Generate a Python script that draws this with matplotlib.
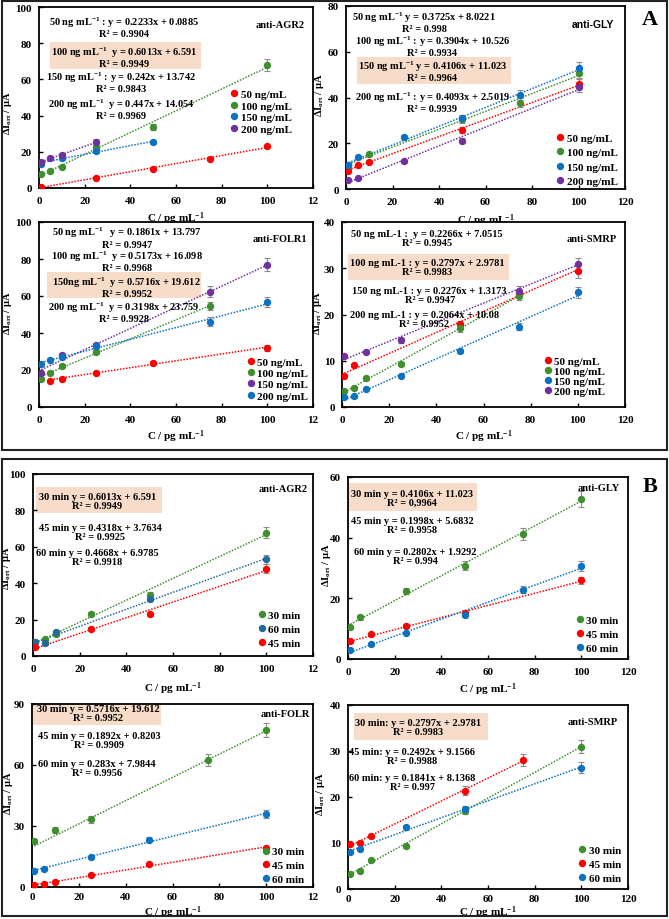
import numpy as np
import matplotlib.pyplot as plt
from matplotlib.patches import Rectangle
from matplotlib.lines import Line2D

plt.rcParams['font.family'] = ['Liberation Serif', 'DejaVu Serif']
plt.rcParams['font.weight'] = 'bold'
plt.rcParams['mathtext.fontset'] = 'custom'
plt.rcParams['mathtext.rm'] = 'Liberation Serif:bold'
plt.rcParams['mathtext.it'] = 'Liberation Serif:bold:italic'
plt.rcParams['mathtext.bf'] = 'Liberation Serif:bold'

RED = '#FF0000'
GREEN = '#3F8F2F'
BLUE = '#0B72C2'
PURPLE = '#7030A0'
DARKBLUE = '#236A9A'

conc_labels = ['50 ng/mL', '100 ng/mL', '150 ng/mL', '200 ng/mL']
time_labels = ['30 min', '45 min', '60 min']

# ---------------- panel A : anti-AGR2 ----------------
a_agr2_x = [[1, 25, 50, 75, 100], [1, 5, 10, 25, 50, 100], [1, 10, 25, 50], [1, 5, 10, 25]]
a_agr2_y = [[0.8, 5.6, 10.4, 16.0, 23.2], [8.0, 9.3, 11.7, 22.9, 33.6, 67.8],
            [13.2, 16.4, 20.4, 25.3], [14.5, 16.4, 18.2, 25.3]]
a_agr2_err = [[0.3, 0.4, 0.5, 0.6, 0.8], [0.8, 0.8, 0.9, 1.2, 1.8, 3.2],
              [0.8, 0.8, 1.0, 1.2], [0.8, 0.8, 0.9, 1.6]]
a_agr2_fit = [(0.2233, 0.0885), (0.6013, 6.591), (0.242, 13.742), (0.447, 14.054)]

# ---------------- panel A : anti-GLY ----------------
a_gly_x = [[1, 5, 10, 50, 100], [1, 10, 50, 75, 100], [1, 5, 25, 50, 75, 100], [1, 5, 25, 50, 100]]
a_gly_y = [[8.0, 10.5, 12.0, 25.8, 46.0], [10.3, 15.3, 30.4, 37.7, 50.8],
           [10.5, 13.9, 22.6, 31.0, 41.2, 52.8], [4.1, 4.8, 12.1, 21.2, 44.5]]
a_gly_err = [[0.6, 0.6, 0.7, 1.2, 2.0], [0.6, 0.8, 1.4, 2.0, 2.4],
             [0.6, 0.7, 1.0, 1.5, 2.2, 2.8], [0.5, 0.5, 0.7, 1.0, 2.0]]
a_gly_fit = [(0.3725, 8.0221), (0.3904, 10.526), (0.4106, 11.023), (0.4093, 2.5019)]

# ---------------- panel A : anti-FOLR1 ----------------
a_folr_x = [[5, 10, 25, 50, 100], [1, 5, 10, 25, 75], [1, 10, 25, 75, 100], [1, 5, 10, 25, 75, 100]]
a_folr_y = [[14.1, 15.1, 18.6, 23.7, 31.9], [15.1, 18.6, 22.3, 29.7, 54.7],
            [18.2, 28.3, 33.4, 62.4, 77.0], [23.2, 25.5, 27.0, 32.8, 46.0, 56.6]]
a_folr_err = [[0.6, 0.6, 0.8, 1.0, 1.5], [0.7, 0.8, 1.0, 1.2, 2.2],
              [0.8, 1.0, 1.3, 3.0, 3.6], [0.8, 0.9, 1.0, 1.3, 2.4, 2.8]]
a_folr_fit = [(0.1861, 13.797), (0.5173, 16.098), (0.5716, 19.612), (0.3198, 23.759)]

# ---------------- panel A : anti-SMRP ----------------
a_smrp_x = [[1, 5, 50, 75, 100], [1, 5, 10, 25, 50, 75], [1, 5, 10, 25, 50, 75, 100], [1, 10, 25, 75, 100]]
a_smrp_y = [[6.8, 9.0, 17.9, 24.5, 29.4], [3.4, 4.2, 6.3, 9.3, 17.0, 24.0],
            [2.2, 2.3, 3.9, 6.8, 12.1, 17.4, 24.8], [11.0, 12.0, 14.4, 25.1, 30.9]]
a_smrp_err = [[0.3, 0.3, 0.6, 0.9, 1.6], [0.3, 0.3, 0.4, 0.5, 0.7, 0.9],
              [0.3, 0.3, 0.3, 0.4, 0.5, 0.8, 1.2], [0.4, 0.4, 0.6, 1.0, 1.4]]
a_smrp_fit = [(0.2266, 7.0515), (0.2797, 2.9781), (0.2276, 1.3173), (0.2064, 10.08)]

# ---------------- panel B : anti-AGR2 (30, 60, 45 min) ----------------
b_agr2_x = [[1, 5, 10, 25, 50, 100], [1, 5, 10, 50, 100], [1, 25, 50, 100]]
b_agr2_y = [[7.9, 9.3, 12.1, 23.2, 33.6, 67.8], [7.6, 6.9, 13.3, 31.2, 53.1], [4.9, 15.0, 23.2, 48.0]]
b_agr2_err = [[0.8, 0.8, 0.9, 1.2, 1.8, 3.2], [0.7, 0.7, 0.9, 1.2, 2.4], [0.6, 0.8, 1.0, 2.4]]
b_agr2_fit = [(0.6013, 6.591), (0.4668, 6.9785), (0.4318, 3.7634)]

# ---------------- panel B : anti-GLY ----------------
b_gly_x = [[1, 5, 25, 50, 75, 100], [1, 10, 25, 50, 100], [1, 10, 25, 50, 75, 100]]
b_gly_y = [[10.4, 13.7, 22.3, 30.7, 41.1, 52.7], [5.8, 8.1, 10.9, 15.2, 25.9],
           [3.1, 4.8, 8.7, 14.6, 22.9, 30.7]]
b_gly_err = [[0.6, 0.7, 1.0, 1.5, 2.0, 2.6], [0.4, 0.5, 0.6, 0.8, 1.2], [0.4, 0.5, 0.6, 0.8, 1.2, 1.6]]
b_gly_fit = [(0.4106, 11.023), (0.1998, 5.6832), (0.2802, 1.9292)]

# ---------------- panel B : anti-FOLR ----------------
b_folr_x = [[1, 10, 25, 75, 100], [1, 5, 10, 25, 50, 100], [1, 5, 25, 50, 100]]
b_folr_y = [[22.7, 28.0, 33.3, 62.6, 77.2], [0.8, 1.3, 2.4, 6.0, 11.3, 19.2],
            [7.8, 9.0, 14.7, 23.3, 35.7]]
b_folr_err = [[0.8, 1.5, 1.8, 3.0, 3.6], [0.3, 0.3, 0.3, 0.5, 0.6, 0.9], [0.5, 0.5, 0.7, 1.2, 2.0]]
b_folr_fit = [(0.5716, 19.612), (0.1892, 0.8203), (0.283, 7.9844)]

# ---------------- panel B : anti-SMRP ----------------
b_smrp_x = [[1, 5, 10, 25, 50, 100], [1, 5, 10, 50, 75], [1, 5, 25, 50, 100]]
b_smrp_y = [[3.3, 4.0, 6.2, 9.3, 17.0, 30.9], [9.8, 10.1, 11.5, 21.4, 28.0],
            [8.0, 8.7, 13.4, 17.4, 26.4]]
b_smrp_err = [[0.3, 0.3, 0.3, 0.4, 0.7, 1.4], [0.3, 0.3, 0.4, 0.9, 1.3], [0.3, 0.3, 0.5, 0.7, 1.2]]
b_smrp_fit = [(0.2797, 2.9781), (0.2492, 9.1566), (0.1841, 8.1368)]

W, H = 669, 920
fig = plt.figure(figsize=(W / 100, H / 100), dpi=100)


def px_axes(x0, y0, x1, y1):
    return fig.add_axes([x0 / W, 1 - y1 / H, (x1 - x0) / W, (y1 - y0) / H])


def draw(ax, xs, ys, errs, fits, colors, labels, ymax, ystep, notes, box, title,
         title_xy, title_font, leg_xy, leg_space, ylab_xy, xlab_y, left_col, xpad=5.5):
    for x, y, e, (m, b), c in zip(xs, ys, errs, fits, colors):
        x = np.array(x)
        xl = np.array([x.min(), x.max()])
        ax.plot(xl, m * xl + b, ls=(0, (1, 1)), color=c, lw=1.1, zorder=2)
        ax.errorbar(x, y, yerr=e, fmt='o', ms=4.3, color=c, ecolor='#8c8c8c',
                    elinewidth=0.8, capsize=2, capthick=0.8, zorder=3)
    ax.add_patch(Rectangle(box[:2], box[2], box[3], transform=ax.transAxes,
                           facecolor='#F8DCCA', edgecolor='none', zorder=1))
    for txt, tx, ty in notes:
        ax.text(tx, ty, txt, transform=ax.transAxes, ha='center', va='center',
                fontsize=7.5, fontweight='bold', linespacing=1.0, zorder=4)
    ax.text(title_xy[0], title_xy[1], title, transform=ax.transAxes, ha='right',
            va='center', fontsize=7.5, fontweight='bold', family=title_font)
    handles = [Line2D([], [], ls='none', marker='o', ms=4.3, color=c) for c in colors]
    ax.legend(handles, labels, loc='lower left', bbox_to_anchor=leg_xy, frameon=False,
              fontsize=8, handlelength=0.6, handletextpad=0.3, labelspacing=leg_space,
              borderaxespad=0, borderpad=0)
    ax.set_xlim(0, 120)
    ax.set_ylim(0, ymax)
    ax.set_xticks(np.arange(0, 121, 20))
    if left_col:
        ax.set_xticklabels(['0', '20', '40', '60', '80', '100', '12'])
    ax.set_yticks(np.arange(0, ymax + 0.1, ystep))
    ax.tick_params(direction='in', length=3, width=1, labelsize=8)
    ax.tick_params(axis='x', pad=xpad)
    ax.tick_params(axis='y', pad=5)
    for s in ax.spines.values():
        s.set_linewidth(1.3)
    ax.set_xlabel('C / pg mL$^{-1}$', fontsize=8, fontweight='bold')
    ax.xaxis.set_label_coords(0.5, xlab_y)
    ax.set_ylabel('ΔI$_{\\mathrm{ort}}$ / μA', fontsize=7.5, fontweight='bold')
    ax.yaxis.set_label_coords(*ylab_xy)


conc_colors = [RED, GREEN, BLUE, PURPLE]

ax = px_axes(39, 8, 313, 189)
draw(ax, a_agr2_x, a_agr2_y, a_agr2_err, a_agr2_fit, conc_colors, conc_labels, 100, 20,
     [('50 ng mL$^{-1}$ : y = 0.2233x + 0.0885\nR² = 0.9904', 0.31, 0.895),
      ('100 ng mL$^{-1}$  y = 0.6013x + 6.591\nR² = 0.9949', 0.31, 0.73),
      ('150 ng mL$^{-1}$ : y = 0.242x + 13.742\nR² = 0.9843', 0.30, 0.59),
      ('200 ng mL$^{-1}$  y = 0.447x + 14.054\nR² = 0.9969', 0.30, 0.44)],
     (0.04, 0.657, 0.55, 0.15), 'anti-AGR2', (0.97, 0.906), 'Liberation Serif',
     (0.70, 0.30), 0.16, (-0.09, 0.42), -0.12, True)

ax = px_axes(346, 7, 625, 190)
draw(ax, a_gly_x, a_gly_y, a_gly_err, a_gly_fit, conc_colors, conc_labels, 80, 20,
     [('50 ng mL$^{-1}$ y = 0.3725x + 8.0221\nR² = 0.998', 0.28, 0.915),
      ('100 ng mL$^{-1}$ : y = 0.3904x + 10.526\nR² = 0.9934', 0.31, 0.784),
      ('150 ng mL$^{-1}$ y = 0.4106x + 11.023\nR² = 0.9964', 0.31, 0.648),
      ('200 ng mL$^{-1}$ : y = 0.4093x + 2.5019\nR² = 0.9939', 0.31, 0.48)],
     (0.04, 0.574, 0.55, 0.147), 'anti-GLY', (0.96, 0.9), 'Liberation Sans',
     (0.755, 0.015), 0.42, (-0.072, 0.52), -0.12, False)

ax = px_axes(39, 223, 313, 408)
draw(ax, a_folr_x, a_folr_y, a_folr_err, a_folr_fit, [RED, GREEN, PURPLE, BLUE], conc_labels, 100, 20,
     [('50 ng mL$^{-1}$   y = 0.1861x + 13.797\nR² = 0.9947', 0.32, 0.92),
      ('100 ng mL$^{-1}$  y = 0.5173x + 16.098\nR² = 0.9968', 0.32, 0.795),
      ('150ng mL$^{-1}$  y = 0.5716x + 19.612\nR² = 0.9952', 0.32, 0.655),
      ('200 ng mL$^{-1}$  y = 0.3198x + 23.759\nR² = 0.9928', 0.31, 0.515)],
     (0.03, 0.589, 0.56, 0.141), 'anti-FOLR1', (0.98, 0.91), 'Liberation Serif',
     (0.76, 0.035), 0.13, (-0.09, 0.51), -0.11, True)

ax = px_axes(342, 223, 625, 408)
draw(ax, a_smrp_x, a_smrp_y, a_smrp_err, a_smrp_fit, conc_colors, conc_labels, 40, 10,
     [('50 ng mL-1 :  y = 0.2266x + 7.0515\nR² = 0.9945', 0.30, 0.914),
      ('100 ng mL-1 : y = 0.2797x + 2.9781\nR² = 0.9983', 0.30, 0.757),
      ('150 ng mL-1 : y = 0.2276x + 1.3173\nR² = 0.9947', 0.31, 0.605),
      ('200 ng mL-1 : y = 0.2064x + 10.08\nR² = 0.9952', 0.29, 0.475)],
     (0.02, 0.686, 0.57, 0.141), 'anti-SMRP', (0.97, 0.91), 'Liberation Serif',
     (0.715, 0.06), 0.02, (-0.062, 0.51), -0.11, False)

ax = px_axes(33, 475, 313, 657)
draw(ax, b_agr2_x, b_agr2_y, b_agr2_err, b_agr2_fit, [GREEN, DARKBLUE, RED],
     ['30 min', '60 min', '45 min'], 100, 20,
     [('30 min y = 0.6013x + 6.591\nR² = 0.9949', 0.23, 0.854),
      ('45 min y = 0.4318x + 3.7634\nR² = 0.9925', 0.24, 0.684),
      ('60 min y = 0.4668x + 6.9785\nR² = 0.9918', 0.23, 0.544)],
     (0.01, 0.786, 0.45, 0.143), 'anti-AGR2', (0.98, 0.923), 'Liberation Serif',
     (0.805, 0.045), 0.37, (-0.07, 0.49), -0.13, True)

ax = px_axes(348, 478, 628, 660)
draw(ax, b_gly_x, b_gly_y, b_gly_err, b_gly_fit, [GREEN, RED, BLUE], time_labels, 60, 20,
     [('30 min y = 0.4106x + 11.023\nR² = 0,9964', 0.23, 0.885),
      ('45 min y = 0.1998x + 5.6832\nR² = 0.9958', 0.23, 0.734),
      ('60 min y = 0.2802x + 1.9292\nR² = 0.994', 0.24, 0.566)],
     (0.0, 0.813, 0.46, 0.154), 'anti-GLY', (0.97, 0.945), 'Liberation Serif',
     (0.815, 0.035), 0.37, (-0.055, 0.52), -0.115, False)

ax = px_axes(32, 705, 313, 888)
draw(ax, b_folr_x, b_folr_y, b_folr_err, b_folr_fit, [GREEN, RED, BLUE], time_labels, 90, 30,
     [('30 min y = 0.5716x + 19.612\nR² = 0.9952', 0.235, 0.95),
      ('45 min y = 0.1892x + 0.8203\nR² = 0.9909', 0.24, 0.803),
      ('60 min y = 0.283x + 7.9844\nR² = 0.9956', 0.23, 0.65)],
     (0.0, 0.885, 0.46, 0.115), 'anti-FOLR', (0.99, 0.95), 'Liberation Serif',
     (0.82, 0.015), 0.37, (-0.06, 0.52), -0.092, True, xpad=3.5)

ax = px_axes(348, 706, 628, 890)
draw(ax, b_smrp_x, b_smrp_y, b_smrp_err, b_smrp_fit, [GREEN, RED, BLUE], time_labels, 40, 10,
     [('30 min: y = 0.2797x + 2.9781\nR² = 0.9983', 0.25, 0.883),
      ('45 min: y = 0.2492x + 9.1566\nR² = 0.9988', 0.23, 0.725),
      ('60 min: y = 0.1841x + 8.1368\nR² = 0.997', 0.23, 0.58)],
     (0.02, 0.81, 0.48, 0.147), 'anti-SMRP', (0.965, 0.908), 'Liberation Serif',
     (0.825, 0.035), 0.37, (-0.075, 0.52), -0.079, False, xpad=3.5)

# panel frames and letters
for y0, y1 in [(2, 451), (460, 917)]:
    fig.add_artist(Rectangle((2 / W, 1 - y1 / H), 665 / W, (y1 - y0) / H,
                             transform=fig.transFigure, fill=False, lw=1.5, edgecolor='#222222'))
fig.text(650 / W, 1 - 20 / H, 'A', ha='center', va='center', fontsize=16, fontweight='bold')
fig.text(650 / W, 1 - 487 / H, 'B', ha='center', va='center', fontsize=16, fontweight='bold')

fig.savefig('out.png', dpi=100)
